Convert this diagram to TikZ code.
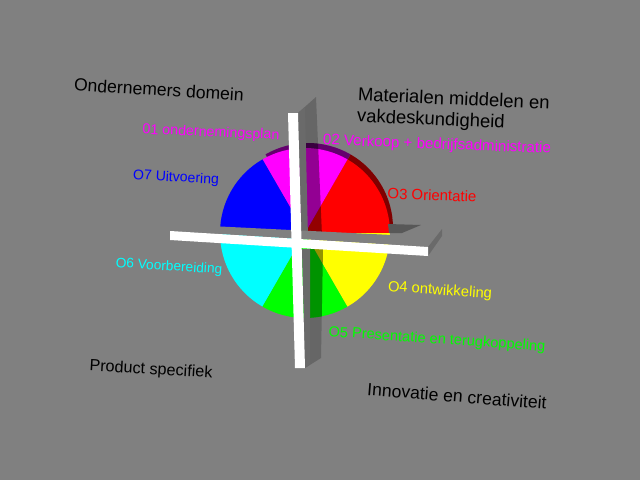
\documentclass[tikz,border=0pt]{standalone}
\usepackage{fontspec}
\setmainfont{Liberation Sans}
\definecolor{bg}{RGB}{128,128,128}
\definecolor{facegray}{RGB}{106,106,106}
\definecolor{shade}{RGB}{88,88,88}
\definecolor{rimred}{RGB}{128,0,0}
\definecolor{rimmag}{RGB}{100,0,110}
\definecolor{pred}{RGB}{255,0,0}
\definecolor{pmag}{RGB}{255,0,255}
\definecolor{pblue}{RGB}{0,0,255}
\definecolor{pcyan}{RGB}{0,255,255}
\definecolor{pgreen}{RGB}{0,255,0}
\definecolor{pyellow}{RGB}{255,255,0}
\tikzset{
  zone/.style={font=\fontsize{10}{11.5}\selectfont, text=black, inner sep=0pt},
  part/.style={font=\fontsize{8.3}{10}\selectfont, inner sep=0pt},
  face/.style={fill=black, opacity=0.2},
}
\begin{document}
\begin{tikzpicture}[x=0.02cm,y=-0.02cm]
\path[fill=bg] (0,0) rectangle (640,480);
\useasboundingbox (0,0) rectangle (640,480);
\coordinate (ctr) at (305,233);
\coordinate (back) at (308,228);

\foreach \a/\b/\c in {0/60/rimred,60/120/rimmag}
  \path[fill=\c] (back) -- +(-\a:85) arc[start angle=-\a,end angle=-\b,radius=85] -- cycle;
\foreach \a/\b/\c in {0/60/pred,60/90/pmag,90/120/pmag,120/180/pblue,180/240/pcyan,240/300/pgreen,300/360/pyellow}
  \path[fill=\c] (ctr) -- +(-\a:85) arc[start angle=-\a,end angle=-\b,radius=85] -- cycle;

% side faces of the upright slab
\path[face] (298,113) -- (316,97) -- (322,236) -- (301,238) -- cycle;
\path[face] (302,249) -- (323,249) -- (321,358) -- (305,368) -- cycle;
\begin{scope}
  \clip (back) circle[radius=85] (ctr) circle[radius=85];
  \path[face,opacity=0.28] (298,113) -- (316,97) -- (322,236) -- (301,238) -- cycle;
  \path[face,opacity=0.28] (302,249) -- (323,249) -- (321,358) -- (305,368) -- cycle;
\end{scope}
\path[fill=facegray] (298,113) -- (305,107) -- (308,238) -- (301,238) -- cycle;
\path[fill=facegray] (302,249) -- (310,249) -- (310,364) -- (305,368) -- cycle;

% flat slab
\path[fill=bg] (170,224) -- (432,237) -- (428,247) -- (170,231) -- cycle;
\path[fill=shade] (388,224) -- (421,225) -- (402,233) -- (389,233) -- cycle;
\path[fill=facegray] (428,247) -- (442,229) -- (442,236) -- (428,256) -- cycle;
\path[fill=white] (170,231) -- (428,247) -- (428,256) -- (170,240) -- cycle;
\path[fill=white] (288,113) -- (298,113) -- (305,368) -- (295,368) -- cycle;

\node[zone,rotate=-3.5] (ondernemer) at (159,89.5) {Ondernemers domein};
\node[zone,font=\fontsize{10.5}{12}\selectfont,anchor=north west,align=left,rotate=-2.5] (materialen) at (358,87) {Materialen middelen en\\vakdeskundigheid};
\node[zone,font=\fontsize{9.2}{11}\selectfont,rotate=-3.3] (product) at (151,370) {Product specifiek};
\node[zone,rotate=-4.5] (innovatie) at (457,396) {Innovatie en creativiteit};

\node[part,text=pmag,font=\fontsize{8.1}{10}\selectfont,rotate=-2.5] (o1) at (211,133) {01 ondernemingsplan};
\node[part,text=pmag,font=\fontsize{8.6}{10}\selectfont,rotate=-2.2] (o2) at (437,145) {02 Verkoop + bedrijfsadministratie};
\node[part,text=pred,font=\fontsize{8.5}{10}\selectfont,rotate=-2] (o3) at (432,195) {O3 Orientatie};
\node[part,text=pyellow,font=\fontsize{8.4}{10}\selectfont,rotate=-4] (o4) at (440,291) {O4 ontwikkeling};
\node[part,text=pgreen,rotate=-3.9] (o5) at (437,340) {O5 Presentatie en terugkoppeling};
\node[part,text=pcyan,font=\fontsize{7.8}{10}\selectfont,rotate=-3.7] (o6) at (169,267) {O6 Voorbereiding};
\node[part,text=pblue,font=\fontsize{8}{10}\selectfont,rotate=-3.3] (o7) at (176,178) {O7 Uitvoering};
\end{tikzpicture}
\end{document}
